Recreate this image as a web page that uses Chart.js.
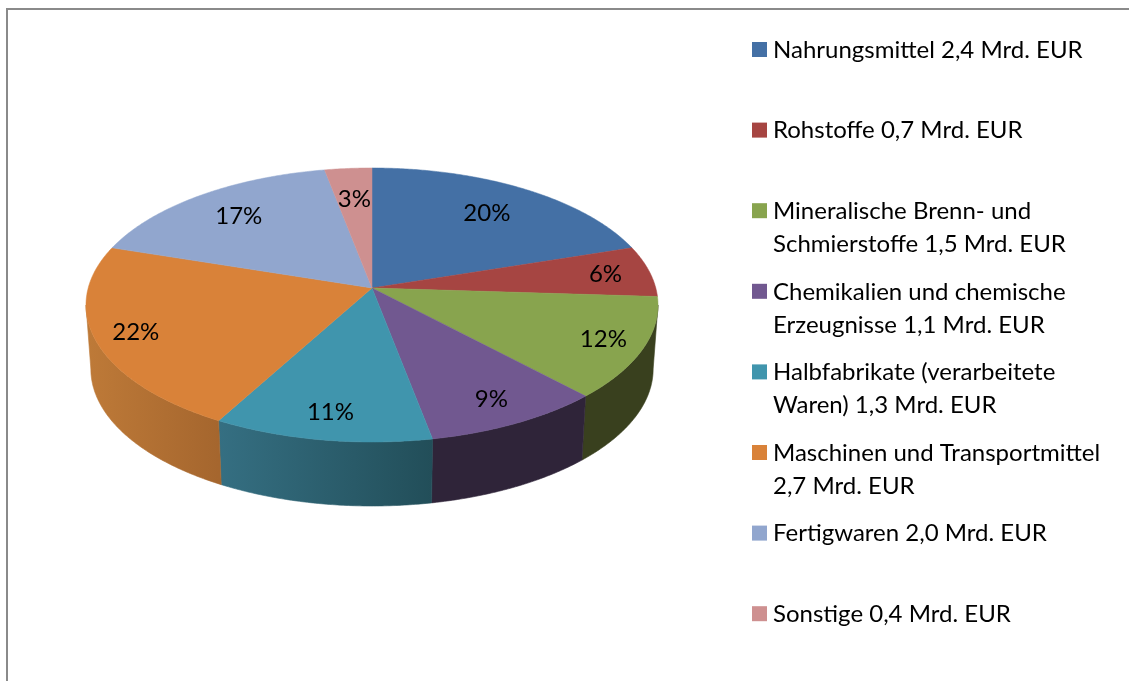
<!DOCTYPE html>
<html>
<head>
<meta charset="utf-8">
<style>html,body{margin:0;padding:0;background:#fff;overflow:hidden}canvas{display:block}</style>
<script src="https://cdn.jsdelivr.net/npm/chart.js@4"></script>
</head>
<body>
<canvas id="c" width="1129" height="681"></canvas>
<script>
const categories = [
  ["Nahrungsmittel 2,4 Mrd. EUR"],
  ["Rohstoffe 0,7 Mrd. EUR"],
  ["Mineralische Brenn- und", "Schmierstoffe 1,5 Mrd. EUR"],
  ["Chemikalien und chemische", "Erzeugnisse 1,1 Mrd. EUR"],
  ["Halbfabrikate (verarbeitete", "Waren) 1,3 Mrd. EUR"],
  ["Maschinen und Transportmittel", "2,7 Mrd. EUR"],
  ["Fertigwaren 2,0 Mrd. EUR"],
  ["Sonstige 0,4 Mrd. EUR"]
];
const shares = [20, 6, 12, 9, 11, 22, 17, 3];
const topColors = ["#4470A5", "#A64542", "#88A44E", "#715890", "#4095AD", "#D98239", "#91A6CE", "#CE9090"];
const wallLeft = ["#2c4468", "#6a2c2a", "#39401E", "#2F2439", "#356F82", "#BE7A38", "#5b6880", "#805a5a"];
const wallRight = ["#2c4468", "#6a2c2a", "#39401E", "#2F2439", "#224E59", "#A5662E", "#5b6880", "#805a5a"];
const labelReach = [0.74, 0.84, 0.86, 0.84, 0.84, 0.86, 0.76, 0.72];

const CX = 372, CY = 288, A = 283.8, B = 134.9, P = 0.124, DEPTH = 64, BOTTOM_X = 0.983;
const FONT = '24px Lato';

function project(theta, r) {
  const x = Math.sin(theta) * r, y = -Math.cos(theta) * r, w = 1 - P * y;
  return [CX + A * x / w, CY + B * y / w];
}
function lower(pt) { return [CX + (pt[0] - CX) * BOTTOM_X, pt[1] + DEPTH]; }

const pie3d = {
  id: 'pie3d',
  beforeDatasetsDraw(chart) {
    const ctx = chart.ctx, arcs = chart.getDatasetMeta(0).data;
    const angles = arcs.map(a => {
      const p = a.getProps(['startAngle', 'endAngle'], true);
      return [p.startAngle + Math.PI / 2, p.endAngle + Math.PI / 2];
    });
    const step = Math.PI / 360;
    const limL = Math.acos(-P), limR = 2 * Math.PI - limL;

    // frame
    ctx.save();
    ctx.strokeStyle = '#8a8a8a';
    ctx.lineWidth = 2;
    ctx.beginPath();
    ctx.moveTo(7, 681); ctx.lineTo(7, 9); ctx.lineTo(1129, 9);
    ctx.stroke();
    ctx.restore();

    // walls
    angles.forEach((an, i) => {
      const s = Math.max(an[0], limL), e = Math.min(an[1], limR);
      if (e <= s) return;
      const pts = [];
      for (let t = s; t < e; t += step) pts.push(project(t, 1));
      pts.push(project(e, 1));
      const bottom = pts.map(lower).reverse();
      const xs = pts.map(p => p[0]);
      const x0 = Math.min(...xs), x1 = Math.max(...xs);
      // on the front wall screen-left of the slice is its later edge
      const g = ctx.createLinearGradient(x0, 0, x1, 0);
      g.addColorStop(0, wallLeft[i]);
      g.addColorStop(1, wallRight[i]);
      ctx.beginPath();
      pts.concat(bottom).forEach((p, k) => k ? ctx.lineTo(p[0], p[1]) : ctx.moveTo(p[0], p[1]));
      ctx.closePath();
      ctx.fillStyle = g;
      ctx.strokeStyle = g;
      ctx.lineWidth = 0.6;
      ctx.fill();
      ctx.stroke();
    });

    // top face
    angles.forEach((an, i) => {
      ctx.beginPath();
      ctx.moveTo(CX, CY);
      for (let t = an[0]; t < an[1]; t += step) {
        const p = project(t, 1);
        ctx.lineTo(p[0], p[1]);
      }
      const q = project(an[1], 1);
      ctx.lineTo(q[0], q[1]);
      ctx.closePath();
      ctx.fillStyle = topColors[i];
      ctx.strokeStyle = topColors[i];
      ctx.lineWidth = 0.5;
      ctx.fill();
      ctx.stroke();
    });

    // percentage labels
    ctx.fillStyle = '#000';
    ctx.font = FONT;
    ctx.textAlign = 'center';
    ctx.textBaseline = 'middle';
    const total = chart.data.datasets[0].data.reduce((a, b) => a + b, 0);
    angles.forEach((an, i) => {
      const p = project((an[0] + an[1]) / 2, labelReach[i]);
      const pct = Math.round(chart.data.datasets[0].data[i] / total * 100);
      ctx.fillText(pct + '%', p[0], p[1]);
    });

    // legend
    ctx.textAlign = 'left';
    ctx.textBaseline = 'middle';
    chart.data.labels.forEach((lines, i) => {
      const y = 50 + i * 80.6;
      ctx.fillStyle = topColors[i];
      ctx.fillRect(752, y - 8, 15, 15);
      ctx.fillStyle = '#000';
      lines.forEach((ln, k) => ctx.fillText(ln, 773, y + k * 33));
    });
    return false;
  }
};

new Chart(document.getElementById('c'), {
  type: 'pie',
  data: {
    labels: categories,
    datasets: [{ data: shares, backgroundColor: topColors, borderWidth: 0 }]
  },
  options: {
    responsive: false,
    animation: false,
    plugins: { legend: { display: false }, tooltip: { enabled: false } }
  },
  plugins: [pie3d]
});
</script>
</body>
</html>
